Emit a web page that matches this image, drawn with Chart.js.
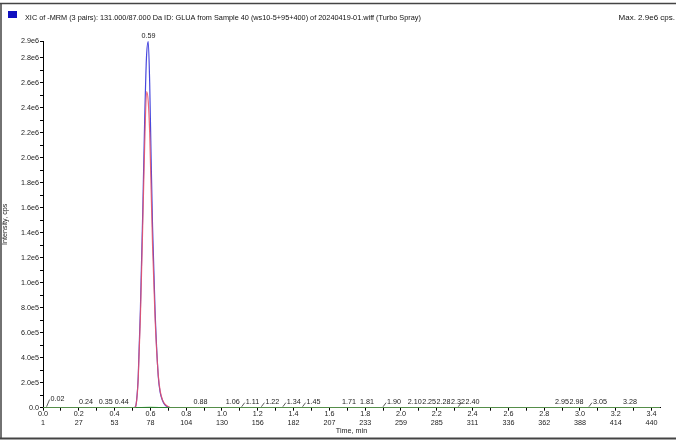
<!DOCTYPE html>
<html>
<head>
<meta charset="utf-8">
<script src="https://cdn.jsdelivr.net/npm/chart.js@4/dist/chart.umd.min.js"></script>
<style>
  html, body { margin: 0; padding: 0; background: #fff; }
  #wrap { width: 676px; height: 445px; }
</style>
</head>
<body>
<div id="wrap"><canvas id="canvas" width="676" height="445"></canvas></div>
<script>
// ---- data ----
var titleText = "XIC of -MRM (3 pairs): 131.000/87.000 Da ID: GLUA from Sample 40 (ws10-5+95+400) of 20240419-01.wiff (Turbo Spray)";
var maxText = "Max. 2.9e6 cps.";

// blue trace (time, min / intensity, cps)
var blueTimes  = [0.0, 0.3, 0.5, 0.515, 0.523, 0.532, 0.544, 0.557, 0.568, 0.578, 0.588, 0.596, 0.604, 0.612, 0.626, 0.644, 0.655, 0.667, 0.68, 0.70, 0.72, 1.5, 2.5, 3.447];
var blueValues = [0, 0, 0, 4000, 60000, 250000, 780000, 1550000, 2300000, 2800000, 2930000, 2600000, 2000000, 1450000, 780000, 250000, 120000, 60000, 25000, 5000, 0, 0, 0, 0];

// red trace
var redTimes  = [0.0, 0.3, 0.5, 0.515, 0.523, 0.532, 0.544, 0.557, 0.568, 0.579, 0.588, 0.596, 0.604, 0.612, 0.626, 0.644, 0.655, 0.667, 0.68, 0.70, 0.72, 1.5, 2.5, 3.447];
var redValues = [0, 0, 0, 4000, 55000, 230000, 720000, 1450000, 2100000, 2530000, 2450000, 2200000, 1750000, 1300000, 720000, 260000, 130000, 65000, 30000, 8000, 0, 0, 0, 0];

// green trace (flat)
var greenTimes  = [0.0, 0.5, 0.6, 0.7, 1.5, 2.5, 3.447];
var greenValues = [0, 0, 2000, 0, 0, 0, 0];

// peak labels
var peakLabels  = [0.02, 0.24, 0.35, 0.44, 0.59, 0.88, 1.06, 1.11, 1.22, 1.34, 1.45, 1.71, 1.81, 1.90, 2.10, 2.25, 2.28, 2.32, 2.40, 2.95, 2.98, 3.05, 3.28];
var peakHeights = [25000, 0, 0, 0, 2930000, 0, 0, 0, 0, 0, 0, 0, 0, 0, 0, 0, 0, 0, 0, 0, 0, 0, 0];
var markedPeaks = [0.02, 1.11, 1.22, 1.34, 1.45, 1.90, 2.32, 3.05];

// axis ticks
var timeTicks  = [0.0, 0.2, 0.4, 0.6, 0.8, 1.0, 1.2, 1.4, 1.6, 1.8, 2.0, 2.2, 2.4, 2.6, 2.8, 3.0, 3.2, 3.4];
var scanLabels = ["1", "27", "53", "78", "104", "130", "156", "182", "207", "233", "259", "285", "311", "336", "362", "388", "414", "440"];
var timeMinor  = [0.1, 0.3, 0.5, 0.7, 0.9, 1.1, 1.3, 1.5, 1.7, 1.9, 2.1, 2.3, 2.5, 2.7, 2.9, 3.1, 3.3];
var yTicks     = [0, 200000, 400000, 600000, 800000, 1000000, 1200000, 1400000, 1600000, 1800000, 2000000, 2200000, 2400000, 2600000, 2800000];
var yMinor     = [100000, 300000, 500000, 700000, 900000, 1100000, 1300000, 1500000, 1700000, 1900000, 2100000, 2300000, 2500000, 2700000];
var yMax = 2935000;
var xMax = 3.447;

function pts(xs, ys){
    var a = [];
    for(var i = 0; i < xs.length; i++){ a.push({x: xs[i], y: ys[i]}); }
    return a;
}

var FONT = "'Liberation Sans', Arial, sans-serif";

function fmtY(v){
    if(v == 0) return "0.0";
    if(v >= yMax - 1) return "2.9e6";
    if(v < 1000000) return (v / 100000).toFixed(1) + "e5";
    return (v / 1000000).toFixed(1) + "e6";
}

var framePlugin = {
    id: "frame",
    beforeDraw: function(chart){
        var c = chart.ctx;
        c.save();
        c.fillStyle = "#fff";
        c.fillRect(0, 0, chart.width, chart.height);
        c.strokeStyle = "#444";
        c.lineWidth = 1.5;
        c.beginPath();
        c.moveTo(0, 3.5); c.lineTo(chart.width, 3.5);
        c.moveTo(1, 3.5); c.lineTo(1, 438);
        c.stroke();
        c.lineWidth = 2;
        c.beginPath();
        c.moveTo(0, 438.5); c.lineTo(chart.width, 438.5);
        c.stroke();
        // header
        c.fillStyle = "#1010c0";
        c.fillRect(8, 11, 9, 7);
        c.fillStyle = "#111";
        c.textBaseline = "alphabetic";
        c.textAlign = "left";
        c.font = "7.3px " + FONT;
        c.fillText(titleText, 25, 19.5);
        c.font = "8px " + FONT;
        c.textAlign = "right";
        c.fillText(maxText, 675, 19.5);
        c.restore();
    }
};

var peakPlugin = {
    id: "peaks",
    afterDatasetsDraw: function(chart){
        var c = chart.ctx, xs = chart.scales.x, ys = chart.scales.y;
        c.save();
        c.font = "7.2px " + FONT;
        c.fillStyle = "#222";
        c.textBaseline = "bottom";
        var boxes = [];
        for(var i = 0; i < peakLabels.length; i++){
            var t = peakLabels[i];
            var txt = t.toFixed(2);
            var w = c.measureText(txt).width;
            var px = xs.getPixelForValue(t);
            var py = ys.getPixelForValue(peakHeights[i]) - 2;
            var marked = markedPeaks.indexOf(t) >= 0;
            var left = marked ? px + 4 : px - w / 2;
            boxes.push({txt: txt, left: left, w: w, y: py, px: px, marked: marked});
        }
        // push overlapping labels to the left
        for(var j = boxes.length - 2; j >= 0; j--){
            var b = boxes[j], n = boxes[j + 1];
            if(Math.abs(b.y - n.y) < 6 && b.left + b.w > n.left - 0.5){
                b.left = n.left - 0.5 - b.w;
            }
        }
        boxes.forEach(function(b){
            if(b.marked){
                c.strokeStyle = "#333";
                c.lineWidth = 0.8;
                c.beginPath();
                c.moveTo(b.px, ys.getPixelForValue(0) - 1);
                c.lineTo(b.px + 3, b.y - 3);
                c.stroke();
            }
            c.textAlign = "left";
            c.fillText(b.txt, b.left, b.y);
        });
        c.restore();
    }
};

var ctx = document.getElementById("canvas").getContext("2d");
var chart = new Chart(ctx, {
    type: "line",
    data: {
        datasets: [
            {
                label: "green",
                data: pts(greenTimes, greenValues),
                borderColor: "rgb(60,170,60)",
                borderWidth: 1.2
            },
            {
                label: "red",
                data: pts(redTimes, redValues),
                borderColor: "rgba(235,80,100,0.85)",
                borderWidth: 1.2
            },
            {
                label: "blue",
                data: pts(blueTimes, blueValues),
                borderColor: "rgba(40,40,215,0.85)",
                borderWidth: 1.2
            }
        ]
    },
    options: {
        responsive: false,
        animation: false,
        devicePixelRatio: 1,
        layout: { padding: { left: 0, top: 41, right: 16, bottom: 0 } },
        elements: {
            point: { radius: 0 },
            line: { cubicInterpolationMode: "monotone", fill: false }
        },
        plugins: {
            legend: { display: false },
            tooltip: { enabled: false }
        },
        scales: {
            x: {
                type: "linear",
                min: 0,
                max: xMax,
                afterBuildTicks: function(s){
                    var all = timeTicks.concat(timeMinor).sort(function(a, b){ return a - b; });
                    s.ticks = all.map(function(v){ return {value: v}; });
                },
                afterFit: function(s){ s.height = 37.3; },
                border: { display: true, color: "#000", width: 1 },
                grid: { display: true, drawOnChartArea: false, drawTicks: true, tickLength: 3, color: "#000" },
                ticks: {
                    autoSkip: false,
                    maxRotation: 0,
                    padding: -2,
                    color: "#222",
                    font: { family: FONT, size: 7.2, lineHeight: 1.35 },
                    callback: function(v){
                        var k = timeTicks.findIndex(function(t){ return Math.abs(t - v) < 1e-6; });
                        if(k < 0) return "";
                        return [timeTicks[k].toFixed(1), scanLabels[k]];
                    }
                },
                title: {
                    display: true,
                    text: "Time, min",
                    color: "#222",
                    font: { family: FONT, size: 7.2 },
                    padding: { top: 0, bottom: 10 }
                }
            },
            y: {
                min: 0,
                max: yMax,
                afterBuildTicks: function(s){
                    var all = yTicks.concat(yMinor).concat([yMax]).sort(function(a, b){ return a - b; });
                    s.ticks = all.map(function(v){ return {value: v}; });
                },
                afterFit: function(s){ s.width = 43; },
                border: { display: true, color: "#000", width: 1 },
                grid: { display: true, drawOnChartArea: false, drawTicks: true, tickLength: 3, color: "#000" },
                ticks: {
                    autoSkip: false,
                    padding: 1,
                    color: "#222",
                    font: { family: FONT, size: 7.2 },
                    callback: function(v){
                        if(yMinor.indexOf(v) >= 0) return "";
                        return fmtY(v);
                    }
                },
                title: {
                    display: true,
                    text: "Intensity, cps",
                    color: "#222",
                    font: { family: FONT, size: 7.2 },
                    padding: { top: 1, bottom: 0 }
                }
            }
        }
    },
    plugins: [framePlugin, peakPlugin]
});
</script>
</body>
</html>
